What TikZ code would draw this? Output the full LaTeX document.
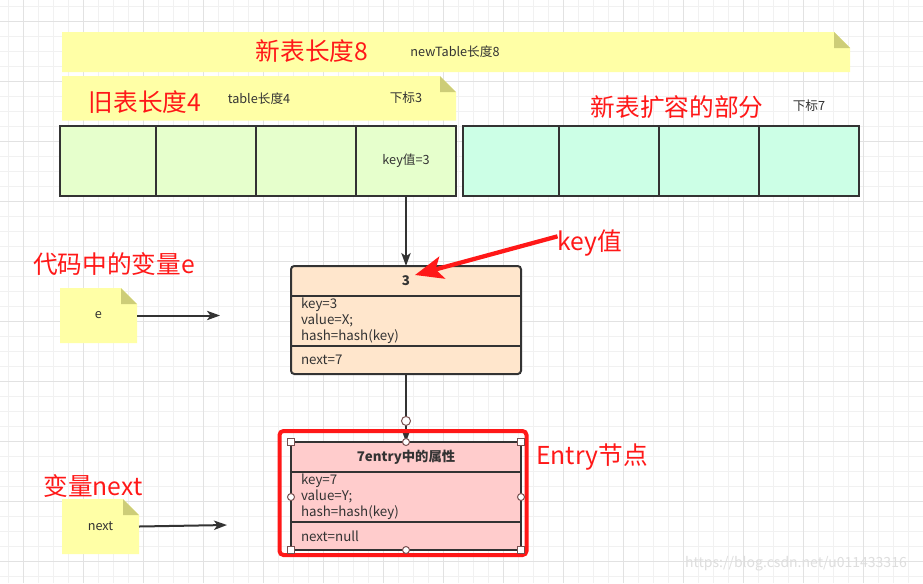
\documentclass[tikz,border=0pt]{standalone}
\usepackage{fontspec}
\setmainfont{Noto Sans CJK SC}
\usepackage{tikz}
\usetikzlibrary{arrows.meta, positioning, calc}
\usepackage{xcolor}
\definecolor{inkgray}{RGB}{51,51,51}
\definecolor{labelred}{RGB}{255,24,24}
\definecolor{notefill}{RGB}{255,255,166}
\definecolor{notefold}{RGB}{205,205,120}
\definecolor{oldgreen}{RGB}{230,255,204}
\definecolor{newmint}{RGB}{204,255,230}
\definecolor{entryorange}{RGB}{255,230,204}
\definecolor{entrypink}{RGB}{255,204,204}
\definecolor{gridlight}{RGB}{241,241,241}
\definecolor{griddark}{RGB}{226,226,226}
\definecolor{handlegray}{RGB}{120,80,80}
\definecolor{markgray}{RGB}{222,222,222}

\pgfdeclarelayer{gridlayer}
\pgfdeclarelayer{back}
\pgfsetlayers{gridlayer,back,main}

% yellow note with a folded corner, drawn behind the named node
\newcommand{\foldnote}[1]{%
  \begin{pgfonlayer}{back}
    \fill[notefill] (#1.south west) -- (#1.north west) -- ([xshift=-12pt]#1.north east)
      -- ([yshift=-12pt]#1.north east) -- (#1.south east) -- cycle;
    \fill[notefold] ([xshift=-12pt]#1.north east) -- ([yshift=-12pt]#1.north east)
      -- ([shift={(-12pt,-12pt)}]#1.north east) -- cycle;
  \end{pgfonlayer}}

\begin{document}
\begin{tikzpicture}[
    x=0.75pt, y=-0.75pt,
    every node/.style={font=\fontsize{9.5}{12}\selectfont, text=inkgray},
    gridminor/.style={draw=gridlight, line width=0.75pt},
    gridmajor/.style={draw=griddark, line width=0.75pt},
    banner/.style={rectangle, inner sep=0pt, outer sep=0pt},
    note/.style={rectangle, inner sep=0pt, outer sep=0pt, minimum width=57.75pt, minimum height=41.25pt},
    oldcell/.style={rectangle, draw=inkgray, fill=oldgreen, line width=1.5pt, minimum width=75pt, minimum height=52.5pt, inner sep=0pt, outer sep=0pt},
    newcell/.style={oldcell, fill=newmint},
    classhead/.style={rectangle, text width=157.5pt, align=center, inner xsep=7.5pt, inner ysep=1pt, minimum height=22.5pt, outer sep=0pt, font=\bfseries\fontsize{10}{12}\selectfont},
    classbody/.style={classhead, align=left, minimum height=37.5pt, font=\fontsize{10}{12}\selectfont},
    classbox/.style={draw=inkgray, line width=1.5pt},
    classline/.style={draw=inkgray, line width=1.5pt},
    flow/.style={-{Stealth[length=9.75pt, width=7pt, inset=2.5pt]}, draw=inkgray, line width=1.5pt},
    keyarrow/.style={-{Stealth[length=21pt, width=17pt, inset=5pt]}, draw=labelred, line width=3.2pt},
    redlabel/.style={inner sep=0pt, text=labelred, font=\fontsize{18.5}{22}\selectfont},
    smalltext/.style={inner sep=0pt},
    highlight/.style={draw=labelred, line width=3pt, rounded corners=3pt},
    handlesq/.style={rectangle, draw=handlegray, fill=white, line width=0.75pt, minimum size=5.25pt, inner sep=0pt},
    handlecirc/.style={circle, draw=handlegray, fill=white, line width=0.75pt, minimum size=5.25pt, inner sep=0pt},
    watermark/.style={inner sep=0pt, text=markgray, font=\fontsize{10.5}{12}\selectfont}
]
\useasboundingbox (0,0) rectangle (923,583);

% Grid
\begin{pgfonlayer}{gridlayer}
  \fill[white] (0,0) rectangle (923,583);
  \foreach \i in {0,...,61} \draw[gridminor] ({8.33+15*\i},0) -- ({8.33+15*\i},583);
  \foreach \j in {0,...,38} \draw[gridminor] (0,{6.67+15*\j}) -- (923,{6.67+15*\j});
  \foreach \i in {0,...,15} \draw[gridmajor] ({23.33+60*\i},0) -- ({23.33+60*\i},583);
  \foreach \j in {0,...,9} \draw[gridmajor] (0,{21.67+60*\j}) -- (923,{21.67+60*\j});
\end{pgfonlayer}

% Banners
\node[banner, minimum width=591pt, minimum height=30pt] (newbar) at (456,52) {};
\foldnote{newbar}
\node[banner, minimum width=295.5pt, minimum height=33.4pt] (oldbar) at (259,98.3) {};
\foldnote{oldbar}
\node[redlabel] (newlen) at (312,51) {新表长度8};
\node[smalltext] (newtag) at (455,52) {newTable长度8};
\node[redlabel] (oldlen) at (145,102) {旧表长度4};
\node[smalltext] (oldtag) at (259,99) {table长度4};
\node[smalltext] (idx3) at (406,98) {下标3};
\node[redlabel] (growlbl) at (677,107) {新表扩容的部分};
\node[smalltext] (idx7) at (809,106) {下标7};

% Tables
\node[oldcell, minimum width=72pt] (old1) at (108,161) {};
\node[oldcell, right=0pt of old1] (old2) {};
\node[oldcell, right=0pt of old2] (old3) {};
\node[oldcell, right=0pt of old3] (old4) {key值=3};
\node[newcell, minimum width=72pt, right=5.25pt of old4] (new1) {};
\node[newcell, right=0pt of new1] (new2) {};
\node[newcell, right=0pt of new2] (new3) {};
\node[newcell, right=0pt of new3] (new4) {};

% Entry 3
\node[classhead] (e3head) at (406,281) {3};
\node[classbody, below=0pt of e3head] (e3body) {key=3\\value=X;\\hash=hash(key)};
\node[classbody, minimum height=21pt, below=0pt of e3body] (e3next) {next=7};
\begin{pgfonlayer}{back}
  \draw[classbox, fill=entryorange, rounded corners=2.5pt] (e3head.north west) rectangle (e3next.south east);
\end{pgfonlayer}
\draw[classline] (e3body.north west) -- (e3body.north east);
\draw[classline] (e3body.south west) -- (e3body.south east);

% Entry 7
\node[classhead] (e7head) at (406,457) {7entry中的属性};
\node[classbody, below=0pt of e7head] (e7body) {key=7\\value=Y;\\hash=hash(key)};
\node[classbody, minimum height=21pt, below=0pt of e7body] (e7next) {next=null};
\begin{pgfonlayer}{back}
  \draw[classbox, fill=entrypink] (e7head.north west) rectangle (e7next.south east);
\end{pgfonlayer}
\draw[classline] (e7body.north west) -- (e7body.north east);
\draw[classline] (e7body.south west) -- (e7body.south east);

% Variables
\node[note] (notee) at (98.5,315.5) {e};
\foldnote{notee}
\node[note] (notenext) at (100.5,526.5) {next};
\foldnote{notenext}
\coordinate (eptr) at (220,315.5);
\coordinate (nextptr) at (227,525);
\node[redlabel] (evarlbl) at (114,264) {代码中的变量e};
\node[redlabel] (nextlbl) at (93,486) {变量next};

% Arrows
\draw[flow] (old4) -- (e3head);
\draw[flow] (e3next) -- (e7head);
\draw[flow] (notee) -- (eptr);
\draw[flow] (notenext.east) -- (nextptr);

% Key label
\node[redlabel] (keylbl) at (590,243) {key值};
\coordinate (keytip) at ([shift={(9,-6)}]e3head.center);
\draw[keyarrow] ([yshift=5pt]keylbl.west) -- (keytip);

% Selected entry
\draw[highlight] ([shift={(-11.5,-11)}]e7head.north west) rectangle ([shift={(5.5,5)}]e7next.south east);
\node[redlabel] (entrylbl) at (592,457) {Entry节点};
\foreach \a in {north west, north east} \node[handlesq] at (e7head.\a) {};
\foreach \a in {south west, south east} \node[handlesq] at (e7next.\a) {};
\node[handlecirc] at (e7head.north) {};
\node[handlecirc] at (e7next.south) {};
\node[handlecirc] at (e7body.west) {};
\node[handlecirc] at (e7body.east) {};
\node[handlecirc, minimum size=6.75pt] at ($(e3next.south)!0.69!(e7head.north)$) {};

\node[watermark] (wm) at (796,564) {https://blog.csdn.net/u011433316};
\end{tikzpicture}
\end{document}
